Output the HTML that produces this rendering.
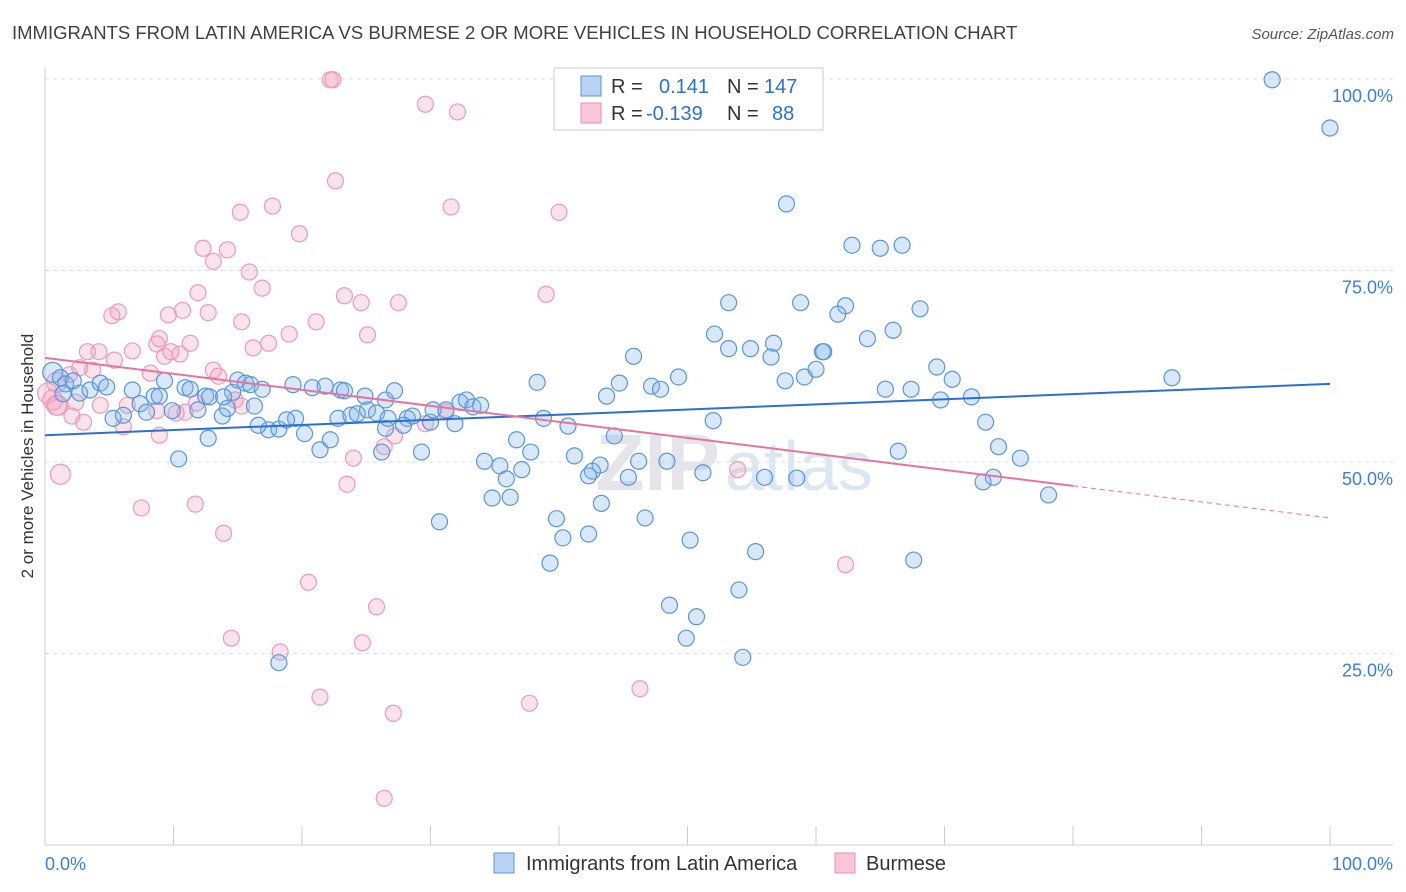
<!DOCTYPE html>
<html><head><meta charset="utf-8">
<style>
body{margin:0;background:#fff;font-family:"Liberation Sans",sans-serif;}
#wrap{position:relative;width:1406px;height:892px;overflow:hidden;}
</style></head>
<body><div id="wrap">
<svg id="chart" width="1406" height="892" xmlns="http://www.w3.org/2000/svg">
<text x="12" y="39" font-size="18.5" fill="#404040">IMMIGRANTS FROM LATIN AMERICA VS BURMESE 2 OR MORE VEHICLES IN HOUSEHOLD CORRELATION CHART</text>
<text x="1394" y="39" font-size="15" fill="#555" font-style="italic" text-anchor="end">Source: ZipAtlas.com</text>
<text x="33" y="456" font-size="17" fill="#333" text-anchor="middle" transform="rotate(-90 33 456)">2 or more Vehicles in Household</text>
<g id="grid"></g>
<text x="720" y="490" font-size="80" font-weight="bold" fill="#e4e4ea" text-anchor="end">ZIP</text>
<text x="725" y="490" font-size="70" fill="#dbe6f3">atlas</text>
<g id="points"></g>
<g id="lines"></g>
<g>
<rect x="554" y="68" width="269" height="62" fill="#fff" stroke="#ccc"/>
<rect x="581" y="76" width="20" height="20" fill="#b8d3f4" stroke="#5b95dd"/>
<text x="611" y="93" font-size="20" fill="#333">R = </text><text x="659" y="93" font-size="20" fill="#2a6fd6">0.141</text>
<text x="727" y="93" font-size="20" fill="#333">N = </text><text x="764" y="93" font-size="20" fill="#2a6fd6">147</text>
<rect x="581" y="103" width="20" height="20" fill="#f8c6d6" stroke="#ec8fb0"/>
<text x="611" y="120" font-size="20" fill="#333">R = </text><text x="646" y="120" font-size="20" fill="#2a6fd6">-0.139</text>
<text x="727" y="120" font-size="20" fill="#333">N = </text><text x="772" y="120" font-size="20" fill="#2a6fd6">88</text>
</g>
<g>
<rect x="494" y="853" width="20" height="20" fill="#b8d3f4" stroke="#5b95dd"/>
<text x="526" y="870" font-size="20" fill="#333">Immigrants from Latin America</text>
<rect x="835" y="853" width="20" height="20" fill="#f8c6d6" stroke="#ec8fb0"/>
<text x="866" y="870" font-size="20" fill="#333">Burmese</text>
</g>
</svg></div>
<script>
const yTicks=[25,50,75,100];
const yTickLabels=["25.0%","50.0%","75.0%","100.0%"];
const xTicks=[0,10,20,30,40,50,60,70,80,90,100];
const blueX=[95.5,100,57.7,62.8,65.0,66.7,53.2,58.8,62.3,61.7,68.1,66.0,64.0,52.1,53.2,54.9,56.7,56.5,60.5,60.6,45.8,60.0,59.1,57.6,49.3,69.4,70.6,65.4,67.4,69.7,72.1,87.7,73.2,74.2,75.9,73.8,73.0,78.1,66.4,67.6,38.3,44.7,43.7,47.2,47.9,52.0,38.8,40.7,36.7,41.2,37.8,35.4,37.1,34.2,35.9,34.8,36.2,44.3,43.2,42.6,45.4,48.4,46.2,51.2,56.0,58.5,42.3,43.3,39.8,40.3,42.3,39.3,46.7,50.2,30.7,55.3,48.6,50.7,49.9,54.0,54.3,18.2,12.7,10.4,17.4,18.2,20.2,21.4,19.5,16.6,18.8,22.8,22.2,23.8,24.3,25.1,25.8,26.5,26.2,26.7,26.5,27.2,28.2,28.6,29.3,30.0,30.2,31.2,31.9,32.3,32.8,33.3,33.9,27.9,0.6,1.2,1.6,2.2,2.7,3.5,4.3,4.8,1.4,5.3,6.1,6.8,7.4,7.9,8.5,8.9,9.3,9.9,10.9,11.3,11.9,12.5,12.8,13.8,14.2,14.6,15.0,15.6,16.0,16.3,16.9,19.3,20.8,21.8,23.0,23.3,24.9,13.9];
const blueY=[99.9,93.6,83.7,78.3,77.9,78.3,70.8,70.8,70.4,69.3,70.0,67.2,66.1,66.7,64.8,64.8,65.5,63.7,64.4,64.4,63.8,62.1,61.1,60.6,61.1,62.4,60.8,59.5,59.5,58.1,58.5,61.0,55.2,52.0,50.5,48.0,47.4,45.7,51.4,37.2,60.4,60.3,58.6,59.9,59.5,55.4,55.7,54.7,52.9,50.8,51.3,49.5,49.0,50.1,47.8,45.3,45.4,53.4,49.6,48.8,48.0,50.1,50.1,48.6,48.0,47.9,48.2,44.6,42.6,40.1,40.6,36.8,42.7,39.8,42.2,38.3,31.3,29.8,27.0,33.3,24.5,23.8,53.1,50.4,54.2,54.3,53.7,51.6,55.7,54.8,55.5,55.7,52.9,56.1,56.3,56.8,56.4,54.4,51.3,55.7,58.1,59.3,55.7,56.0,51.3,55.2,56.8,56.8,55.0,57.8,58.1,57.2,57.4,54.8,61.7,61.0,60.2,60.6,59.0,59.4,60.3,59.8,58.9,55.7,56.1,59.4,57.6,56.5,58.6,58.6,60.6,56.7,59.7,59.5,56.8,58.6,58.5,56.0,57.0,59.1,60.7,60.3,60.1,57.3,59.5,60.1,59.7,59.9,59.4,59.3,58.6,58.5];
const pinkX=[22.2,22.4,29.6,32.1,22.6,31.6,40.0,15.2,17.7,19.8,12.3,14.2,13.1,15.9,16.9,23.3,24.6,27.5,39.0,11.9,10.7,12.7,9.6,5.7,5.2,15.3,21.1,25.1,19.0,17.4,16.2,8.9,8.7,11.3,10.5,9.3,9.8,6.8,4.2,3.3,5.4,8.2,13.1,13.5,3.7,2.7,1.9,0.9,0.2,0.6,1.0,2.4,4.3,6.4,8.7,10.9,10.2,14.8,15.3,11.8,8.9,6.1,3.0,2.1,27.2,31.2,29.6,24.0,23.5,53.9,1.2,7.5,11.7,13.9,25.8,20.5,14.5,18.3,24.7,21.4,27.1,37.7,46.3,26.4,62.3,26.4,0.9];
const pinkY=[99.9,99.9,96.7,95.7,86.7,83.3,82.6,82.6,83.4,79.8,77.9,77.7,76.2,74.8,72.7,71.7,70.8,70.8,71.9,72.1,69.8,69.5,69.2,69.6,69.1,68.3,68.3,66.6,66.7,65.5,64.9,66.1,65.4,65.5,64.1,63.8,64.4,64.5,64.4,64.4,63.3,61.6,62.0,61.2,62.0,62.3,61.4,60.4,59.0,58.1,57.4,57.8,57.4,57.4,56.7,56.5,56.4,58.1,57.3,57.7,53.5,54.6,55.2,56.0,53.4,56.5,55.0,50.5,47.1,49.0,48.4,44.0,44.5,40.7,31.1,34.3,27.0,25.2,26.4,19.3,17.2,18.5,20.4,6.1,36.6,52.0,57.4];
const blueTrend=[53.5,60.2];
const pinkTrend=[63.6,42.7];
const pinkSolidEnd=80;

const NS="http://www.w3.org/2000/svg";
const xS=v=>45+v*12.85;
const yS=v=>845-v*7.66;
function mk(tag,attrs,parent){const e=document.createElementNS(NS,tag);for(const k in attrs)e.setAttribute(k,attrs[k]);parent.appendChild(e);return e;}
const grid=document.getElementById('grid');
yTicks.forEach((t,i)=>{
  const l=mk('line',{x1:45,x2:1393,y1:yS(t),y2:yS(t),stroke:'#dcdcdc','stroke-dasharray':'4,4'},grid);
  
  
  const tx=mk('text',{x:1393,y:yS(t)+23,'font-size':18,fill:'#3b7ddd','text-anchor':'end'},grid);
  tx.textContent=yTickLabels[i];
  
  
});
const ax=mk('line',{x1:45,x2:45,y1:68,y2:845,stroke:'#ccc'},grid);


const bx=mk('line',{x1:45,x2:1393,y1:845,y2:845,stroke:'#ccc'},grid);


xTicks.forEach(t=>{
  const l=mk('line',{x1:xS(t),x2:xS(t),y1:826,y2:845,stroke:'#ccc'},grid);
  
  
});
const xl0=mk('text',{x:45,y:870,'font-size':18,fill:'#3b7ddd'},grid);xl0.textContent='0.0%';


const xl1=mk('text',{x:1393,y:870,'font-size':18,fill:'#3b7ddd','text-anchor':'end'},grid);xl1.textContent='100.0%';



const pts=document.getElementById('points');
pinkX.forEach((x,i)=>{
  const c=mk('circle',{cx:xS(x),cy:yS(pinkY[i]),r:x<1.5?10:8,fill:'rgba(244,160,190,0.3)',stroke:'#ee9ab8','stroke-width':1.2},pts);
  
  
});
blueX.forEach((x,i)=>{
  const c=mk('circle',{cx:xS(x),cy:yS(blueY[i]),r:x<1?10:8,fill:'rgba(130,180,235,0.3)',stroke:'#5b95dd','stroke-width':1.2},pts);
  
  
});
const lines=document.getElementById('lines');
const bl=mk('line',{x1:xS(0),y1:yS(blueTrend[0]),x2:xS(100),y2:yS(blueTrend[1]),stroke:'#2a6fd6','stroke-width':2},lines);


const pm=v=>pinkTrend[0]+(pinkTrend[1]-pinkTrend[0])*v/100;
const pl=mk('line',{x1:xS(0),y1:yS(pm(0)),x2:xS(pinkSolidEnd),y2:yS(pm(pinkSolidEnd)),stroke:'#e8739b','stroke-width':2},lines);


const pd=mk('line',{x1:xS(pinkSolidEnd),y1:yS(pm(pinkSolidEnd)),x2:xS(100),y2:yS(pm(100)),stroke:'#e8739b','stroke-width':1,'stroke-dasharray':'5,4'},lines);


</script>
</body></html>
